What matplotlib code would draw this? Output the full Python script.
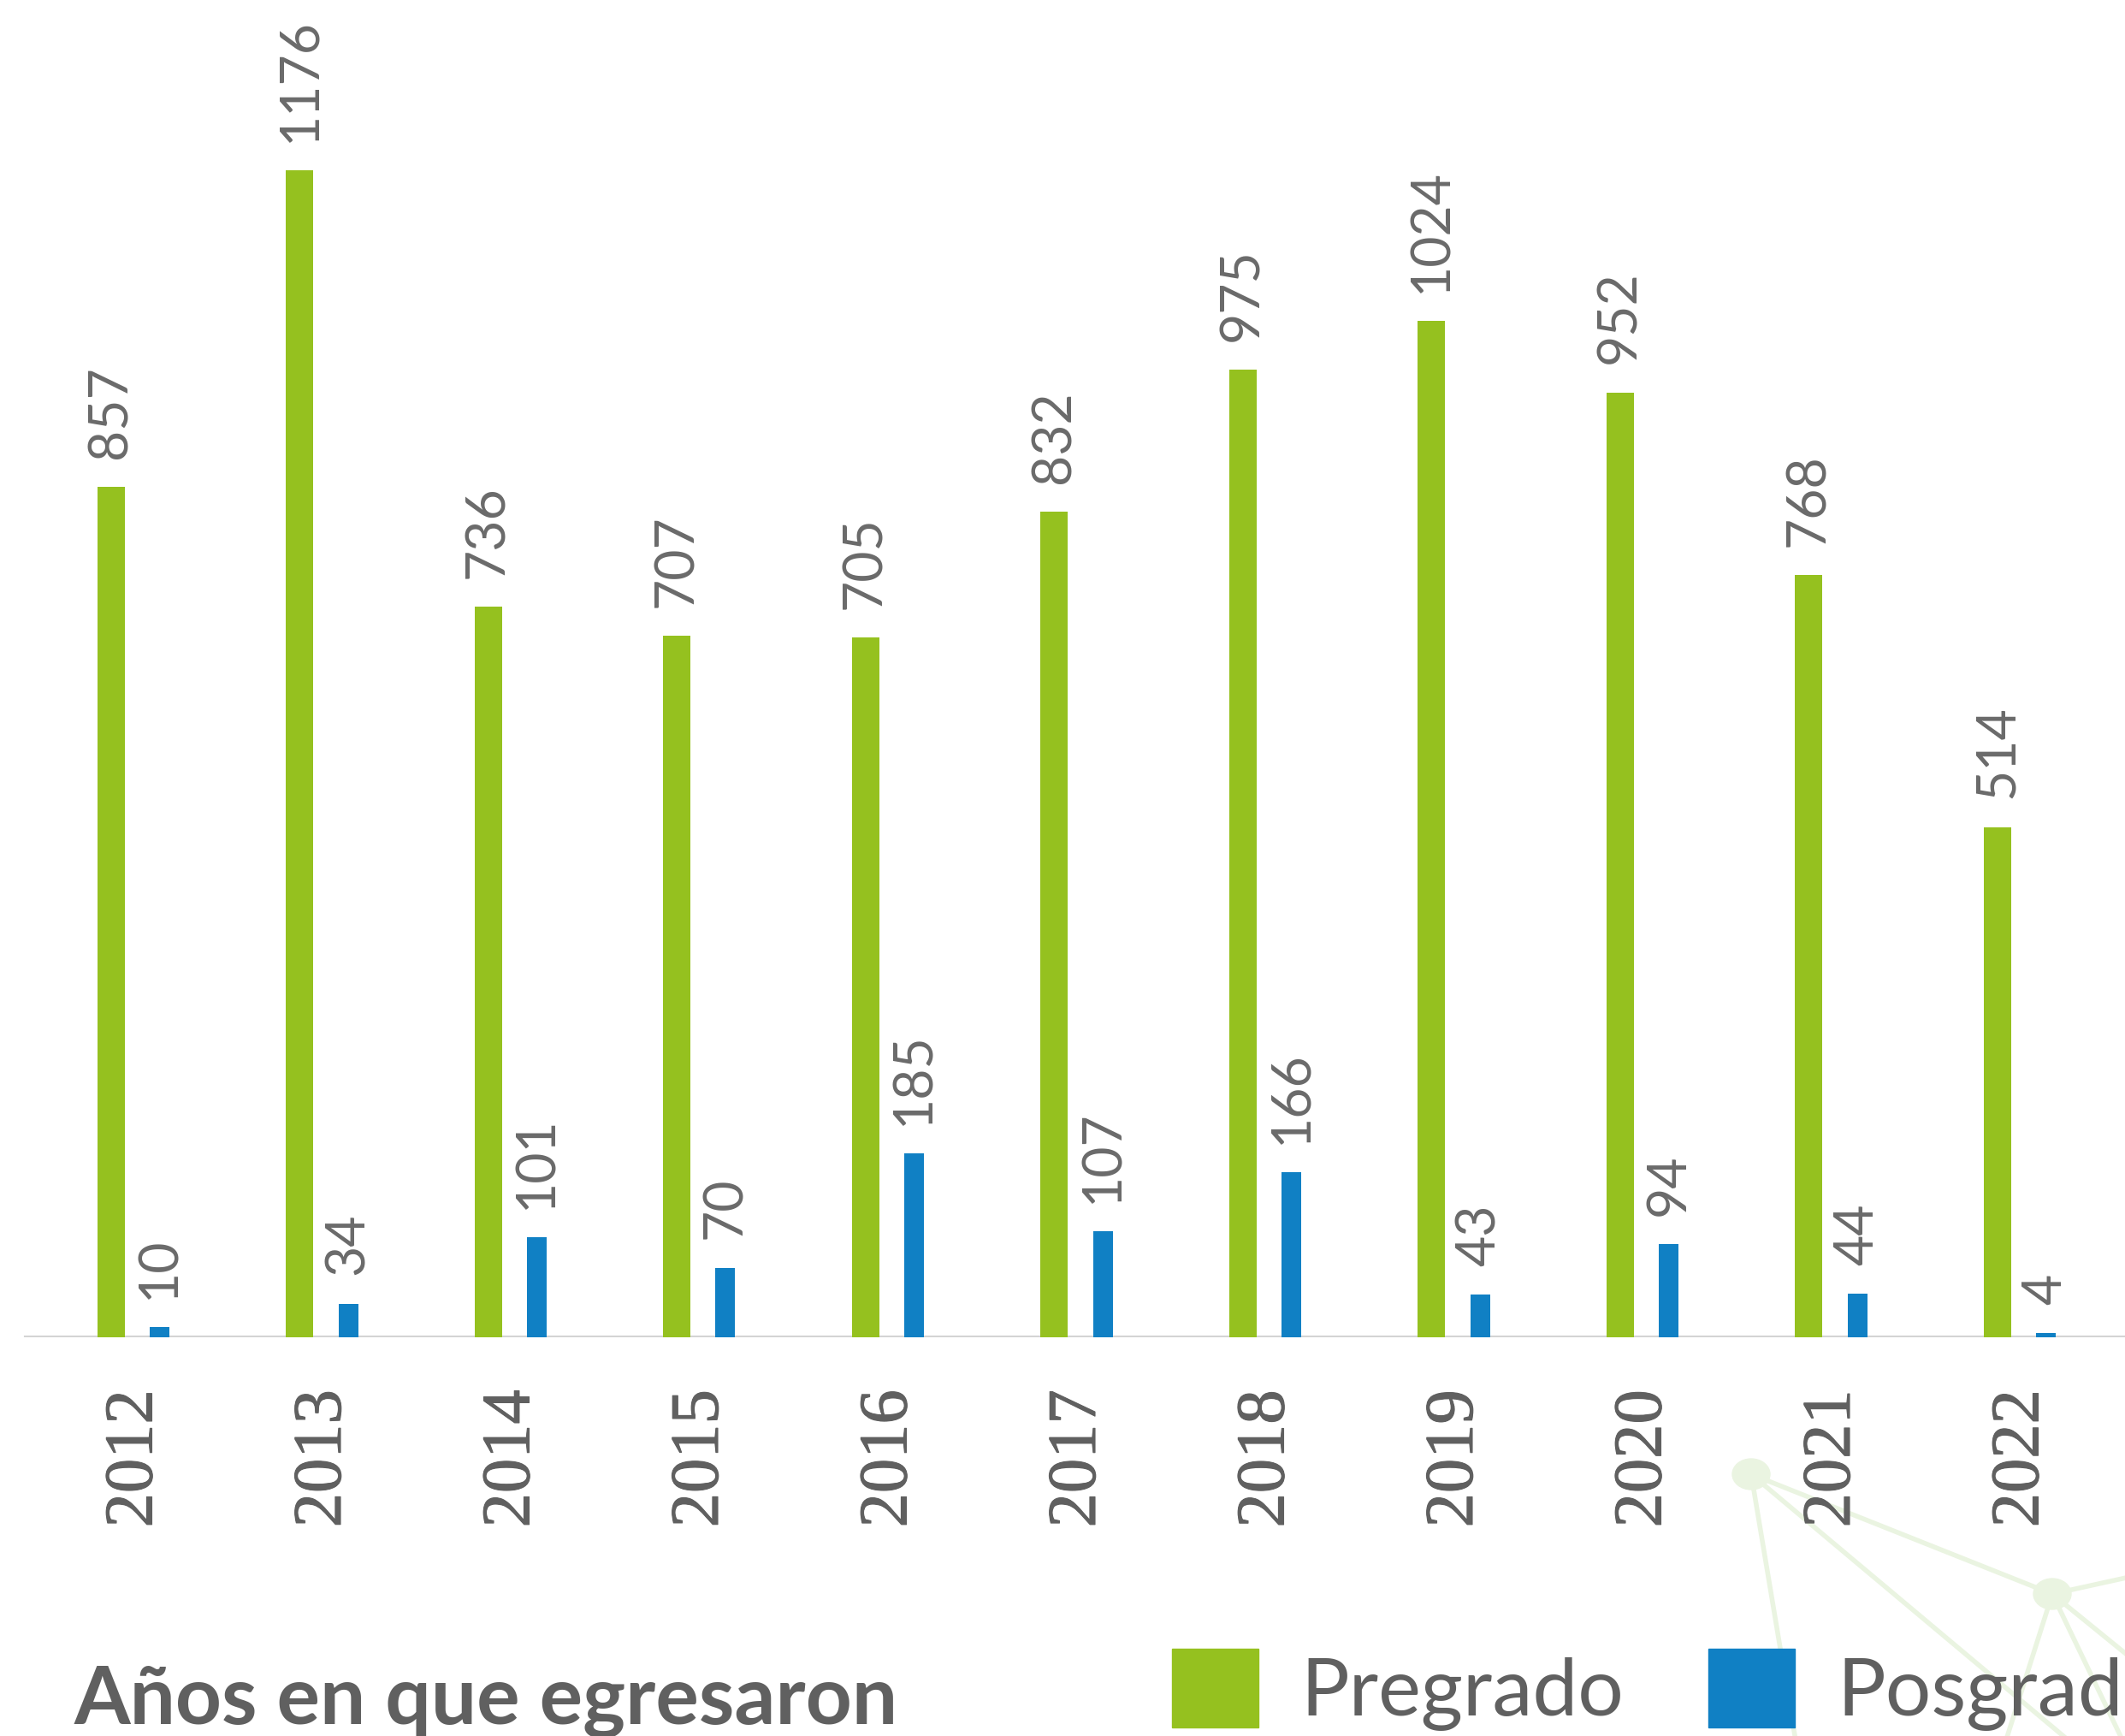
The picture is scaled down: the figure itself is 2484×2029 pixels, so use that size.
import matplotlib
matplotlib.use("Agg")
import matplotlib.pyplot as plt
import numpy as np
from matplotlib.patches import Patch, Circle
from matplotlib.lines import Line2D
import matplotlib.patheffects as pe

years = ["2012", "2013", "2014", "2015", "2016", "2017", "2018", "2019", "2020", "2021", "2022"]
pregrado = [857, 1176, 736, 707, 705, 832, 975, 1024, 952, 768, 514]
posgrado = [10, 34, 101, 70, 185, 107, 166, 43, 94, 44, 4]
series_names = ["Pregrado", "Posgrado"]
title_text = "Años en que egresaron"

GREEN = "#95c11f"
BLUE = "#1080c4"
GRAY = "#606060"
LABEL_GRAY = "#6a6a6a"

W, H = 2484, 2029
fig = plt.figure(figsize=(W / 100, H / 100), dpi=100)

# decorative network lines (background)
deco = "#eaf4e1"
n1 = (2047, 1723)
n2 = (2399, 1863)
segs = [(n1, n2), (n1, (2100, 2040)), (n1, (2425, 2040)),
        (n2, (2490, 1843)), (n2, (2343, 2040)), (n2, (2484, 2040)), (n2, (2490, 1937))]
for a, b in segs:
    fig.add_artist(Line2D([a[0] / W, b[0] / W], [1 - a[1] / H, 1 - b[1] / H],
                          color=deco, lw=4, zorder=0))
for n in (n1, n2):
    fig.add_artist(Circle((n[0] / W, 1 - n[1] / H), 22 / W, color=deco, zorder=0,
                          transform=fig.transFigure))

# axes: full width; baseline at 1563 px from top
base_px = 1563
ax = fig.add_axes([0, (H - base_px) / H, 1, base_px / H])
ax.set_zorder(1)
spacing = 220.5
start = 129.5
x0 = -start / spacing
x1 = x0 + W / spacing
ax.set_xlim(x0, x1)
px_per_unit = 1.16
ax.set_ylim(0, base_px / px_per_unit)

x = np.arange(len(years))
off = 57 / spacing
b1 = ax.bar(x, pregrado, width=32 / spacing, color=GREEN, zorder=3)
b2 = ax.bar(x + off, posgrado, width=23 / spacing, color=BLUE, zorder=3)

for bars, vals in ((b1, pregrado), (b2, posgrado)):
    for rect, v in zip(bars, vals):
        ax.annotate(str(v), (rect.get_x() + rect.get_width() / 2, rect.get_height()),
                    xytext=(0, 24), textcoords="offset points", rotation=90,
                    ha="center", va="bottom", fontsize=45, family="Lato",
                    color=LABEL_GRAY, annotation_clip=False)

ax.axhline(0, xmin=0.012, xmax=1, color="#d4d4d4", lw=3, zorder=2)

for s in ax.spines.values():
    s.set_visible(False)
ax.set_yticks([])
ax.set_xticks(x + off / 2)
ax.set_xticklabels(years, rotation=90, fontsize=58, family="Liberation Serif", color=GRAY)
for t in ax.get_xticklabels():
    t.set_path_effects([pe.withStroke(linewidth=0.8, foreground=GRAY)])
ax.tick_params(axis="x", length=0, pad=44)
ax.patch.set_alpha(0)

# title
fig.text(87 / W, 14 / H, title_text, fontsize=68, family="Lato", weight="bold",
         color=GRAY, ha="left", va="baseline")

# legend
handles = [Patch(color=GREEN), Patch(color=BLUE)]
leg = fig.legend(handles, series_names, loc="lower left",
                 bbox_to_anchor=(1370 / W, 6 / H), ncol=2, frameon=False,
                 prop={"family": "Lato", "size": 68}, labelcolor=GRAY,
                 handlelength=1.07, handleheight=1.13, handletextpad=0.52,
                 columnspacing=1.05, borderpad=0, borderaxespad=0)

fig.savefig("out.png", dpi=100)
